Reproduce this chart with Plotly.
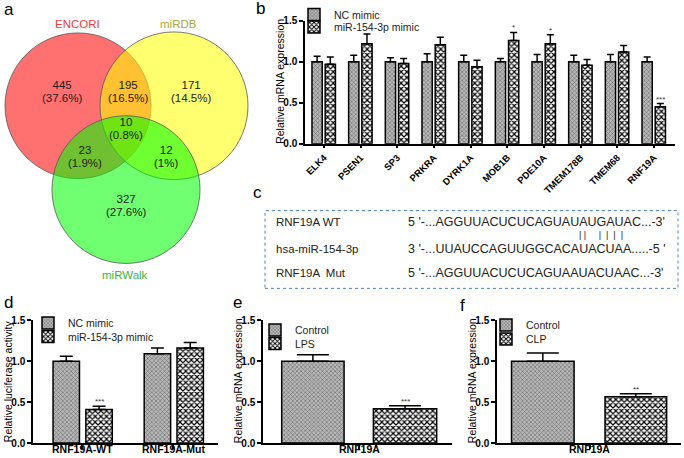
import plotly.graph_objects as go

W, H = 684, 458
FONT = "Arial, Liberation Sans, sans-serif"


def px(x):
    return x / W


def py(y):
    return 1 - y / H


# ---------------- data ----------------
venn_sets = ["ENCORI", "miRDB", "miRWalk"]
venn_counts = [445, 171, 327, 195, 23, 12, 10]
venn_pcts = ["(37.6%)", "(14.5%)", "(27.6%)", "(16.5%)", "(1.9%)", "(1%)", "(0.8%)"]

genes = ["ELK4", "PSEN1", "SP3", "PRKRA", "DYRK1A", "MOB1B", "PDE10A", "TMEM178B", "TMEM68", "RNF19A"]
b_nc = [1.0, 1.0, 1.0, 1.0, 1.0, 1.0, 1.0, 1.0, 1.0, 1.0]
b_nc_err = [0.07, 0.08, 0.05, 0.10, 0.08, 0.04, 0.09, 0.08, 0.09, 0.06]
b_mir = [0.97, 1.22, 0.98, 1.21, 0.94, 1.26, 1.22, 0.96, 1.12, 0.45]
b_mir_err = [0.09, 0.12, 0.06, 0.09, 0.08, 0.10, 0.11, 0.07, 0.08, 0.04]
b_sig = ["", "", "", "", "", "*", "*", "", "", "***"]

d_cats = ["RNF19A-WT", "RNF19A-Mut"]
d_nc = [1.0, 1.09]
d_nc_err = [0.06, 0.07]
d_mir = [0.41, 1.16]
d_mir_err = [0.04, 0.07]
d_sig = ["***", ""]

e_cat = ["RNF19A"]
e_groups = ["Control", "LPS"]
e_vals = [1.0, 0.42]
e_err = [0.08, 0.035]
e_sig = ["", "***"]

f_cat = ["RNF19A"]
f_groups = ["Control", "CLP"]
f_vals = [1.0, 0.566]
f_err = [0.10, 0.035]
f_sig = ["", "**"]

seq_names = ["RNF19A WT", "hsa-miR-154-3p", "RNF19A  Mut"]
seq_texts = ["5 '-...AGGUUACUCUCAGUAUAUGAUAC...-3'",
             "3 '-...UUAUCCAGUUGGCACAUACUAA.....-5 '",
             "5 '-...AGGUUACUCUCAGUAAUACUAAC...-3'"]
pair_marks = ("|&nbsp;|&nbsp;&nbsp;&nbsp;&nbsp;&nbsp;|&nbsp;&nbsp;|&nbsp;&nbsp;|&nbsp;&nbsp;|")

yticks = [0, 0.5, 1.0, 1.5]
ytick_text = ["0.0", "0.5", "1.0", "1.5"]

# ---------------- styles ----------------
NC_STYLE = dict(color="#9a9a9a",
                line=dict(color="black", width=1.5),
                pattern=dict(shape="x", fgcolor="#6a6a6a", bgcolor="#b8b8b8",
                             size=3, solidity=0.35, fillmode="replace"))
MIR_STYLE = dict(color="white",
                 line=dict(color="black", width=1.5),
                 pattern=dict(shape="x", fgcolor="black", bgcolor="white",
                              size=4, solidity=0.5, fillmode="replace"))

fig = go.Figure()


def err(arr, cap):
    return dict(type="data", array=arr, arrayminus=[0] * len(arr), symmetric=False,
                color="black", thickness=1.5, width=cap)


def bar(x, y, e, name, style, width, offset, cap, ax, leg):
    fig.add_trace(go.Bar(x=x, y=y, name=name, marker=style, width=width, offset=offset,
                         error_y=err(e, cap), xaxis="x" + ax, yaxis="y" + ax, legend=leg))


# panel b
bx = list(range(len(genes)))
bar(bx, b_nc, b_nc_err, "NC mimic", NC_STYLE, 0.28, -0.33, 3.5, "", "legend")
bar(bx, b_mir, b_mir_err, "miR-154-3p mimic", MIR_STYLE, 0.28, 0.03, 3.5, "", "legend2")
# panel d
dx = [0, 1]
bar(dx, d_nc, d_nc_err, "NC mimic", NC_STYLE, 0.29, -0.32, 6.5, "2", "legend3")
bar(dx, d_mir, d_mir_err, "miR-154-3p mimic", MIR_STYLE, 0.29, 0.04, 6.5, "2", "legend4")
# panel e
bar([0], [e_vals[0]], [e_err[0]], e_groups[0], NC_STYLE, 0.33, -0.409, 16, "3", "legend5")
bar([0], [e_vals[1]], [e_err[1]], e_groups[1], MIR_STYLE, 0.335, 0.076, 16, "3", "legend6")
# panel f
bar([0], [f_vals[0]], [f_err[0]], f_groups[0], NC_STYLE, 0.34, -0.426, 16, "4", "legend7")
bar([0], [f_vals[1]], [f_err[1]], f_groups[1], MIR_STYLE, 0.335, 0.082, 16, "4", "legend8")

ann = []
shapes = []


def note(xx, yy, text, size, color="#222", xanchor="center", angle=0, yanchor="middle"):
    ann.append(dict(x=px(xx), y=py(yy), xref="paper", yref="paper", text=text,
                    xanchor=xanchor, yanchor=yanchor, textangle=angle, showarrow=False,
                    font=dict(family=FONT, size=size, color=color)))


# significance stars
def stars(xs, ys, es, sig, xref, yref):
    for x, y, e, s in zip(xs, ys, es, sig):
        if s:
            ann.append(dict(x=x, y=y + e, xref=xref, yref=yref, text=s, showarrow=False,
                            xanchor="center", yanchor="bottom", yshift=-2,
                            font=dict(size=8, family=FONT, color="#333")))


stars([i + 0.03 + 0.14 for i in bx], b_mir, b_mir_err, b_sig, "x", "y")
stars([i + 0.04 + 0.145 for i in dx], d_mir, d_mir_err, d_sig, "x2", "y2")
stars([-0.409 + 0.165, 0.076 + 0.1675], e_vals, e_err, e_sig, "x3", "y3")
stars([-0.426 + 0.17, 0.082 + 0.1675], f_vals, f_err, f_sig, "x4", "y4")


# category labels directly under the axes of panels d, e, f
def cat_labels(xs, labels, xref):
    for x, lab in zip(xs, labels):
        ann.append(dict(x=x, y=py(448.5), xref=xref, yref="paper", text=lab, showarrow=False,
                        xanchor="center", yanchor="middle",
                        font=dict(family=FONT, size=10.5, color="black", weight="bold")))


cat_labels(dx, d_cats, "x2")
cat_labels([0], e_cat, "x3")
cat_labels([0], f_cat, "x4")

axis_common = dict(showline=True, linecolor="black", linewidth=1.5, showgrid=False,
                   zeroline=False, ticks="outside", tickcolor="black", tickwidth=1.5,
                   automargin=False, ticklen=4,
                   tickfont=dict(family=FONT, size=10, color="black", weight="bold"))

yax = dict(axis_common, range=[0, 1.5], tickvals=yticks, ticktext=ytick_text)

fig.update_layout(
    template="none",
    xaxis=dict(axis_common, domain=[px(305), px(675)], range=[-0.52, 9.57], anchor="y",
               tickvals=bx, ticktext=genes, tickangle=-45, ticklen=3,
               tickfont=dict(family=FONT, size=9.5, color="black", weight="bold")),
    yaxis=dict(yax, domain=[py(143), py(20)], anchor="x"),
    xaxis2=dict(axis_common, domain=[px(33), px(218)], range=[-0.54, 1.49], anchor="y2",
                tickvals=dx, showticklabels=False),
    yaxis2=dict(yax, domain=[py(443), py(320)], anchor="x2"),
    xaxis3=dict(axis_common, domain=[px(263), px(452)], range=[-0.508, 0.492], anchor="y3",
                tickvals=[0], showticklabels=False),
    yaxis3=dict(yax, domain=[py(443), py(320)], anchor="x3"),
    xaxis4=dict(axis_common, domain=[px(497), px(681)], range=[-0.505, 0.495], anchor="y4",
                tickvals=[0], showticklabels=False),
    yaxis4=dict(yax, domain=[py(443), py(320)], anchor="x4"),
)

# one legend per row (text start x, row centre y)
leg_common = dict(bgcolor="rgba(0,0,0,0)", font=dict(family=FONT, size=10.5, color="#222"),
                  xanchor="left", yanchor="middle", tracegroupgap=0, itemwidth=30)
leg_rows = [(331, 13.5), (331, 27), (65, 323), (65, 336.5),
            (292, 330), (292, 343.5), (523, 325), (523, 339)]
for i, (tx, ty) in enumerate(leg_rows):
    key = "legend" if i == 0 else f"legend{i + 1}"
    fig.update_layout({key: dict(leg_common, x=px(tx - 37), y=py(ty))})

# y-axis titles
for txt, xx, yc in [("Relative mRNA expression", 280, 81),
                    ("Relative luciferase activity", 8, 381),
                    ("Relative mRNA expression", 238, 381),
                    ("Relative mRNA expression", 472, 381)]:
    note(xx, yc, txt, 10.5, color="black", angle=-90)

# panel letters
for letter, xx, yy in [("a", 9, 9), ("b", 260, 8), ("c", 257, 192),
                       ("d", 8, 302), ("e", 237, 302), ("f", 462, 305)]:
    note(xx, yy, letter, 17, color="black")

# ---------------- Venn (panel a) ----------------
circles = [((78, 105), 73, "rgba(255,0,0,0.56)"),
           ((174, 105), 74, "rgba(255,255,0,0.56)"),
           ((126, 189), 74, "rgba(0,255,0,0.56)")]
for (cx, cy), r, col in circles:
    shapes.append(dict(type="circle", xref="paper", yref="paper",
                       x0=px(cx - r), x1=px(cx + r), y0=py(cy + r), y1=py(cy - r),
                       fillcolor=col, line=dict(color="#555", width=0.8), layer="below"))

venn_pos = [(62, 91), (191, 91), (126, 205), (128, 91), (85, 156), (166, 156), (126, 128)]
for (xx, yy), c, p in zip(venn_pos, venn_counts, venn_pcts):
    note(xx, yy, f"<span style='font-size:11.5px'>{c}</span><br>"
                 f"<span style='font-size:11.5px'>{p}</span>", 10)

for name, (xx, yy), col in zip(venn_sets, [(77, 23), (178, 23), (125, 275)],
                               ["#f03a3a", "#a8a830", "#3cb43c"]):
    note(xx, yy, name, 11.5, color=col)

# ---------------- panel c ----------------
shapes.append(dict(type="rect", xref="paper", yref="paper",
                   x0=px(265), x1=px(678), y0=py(288), y1=py(210),
                   line=dict(color="#4a80d8", width=1, dash="dot")))
for name, seq, yy in zip(seq_names, seq_texts, [221, 249, 273]):
    note(274, yy, name, 11.5, xanchor="left")
    note(406, yy, seq, 12.5, xanchor="left")
note(577, 235, pair_marks, 9, xanchor="left")

fig.update_layout(width=W, height=H, margin=dict(l=0, r=0, t=0, b=0),
                  paper_bgcolor="white", plot_bgcolor="rgba(0,0,0,0)",
                  font=dict(family=FONT), annotations=ann, shapes=shapes,
                  showlegend=True)

fig.write_html("out.html", config={"displayModeBar": False},
               post_script="document.body.style.margin='0px';")
